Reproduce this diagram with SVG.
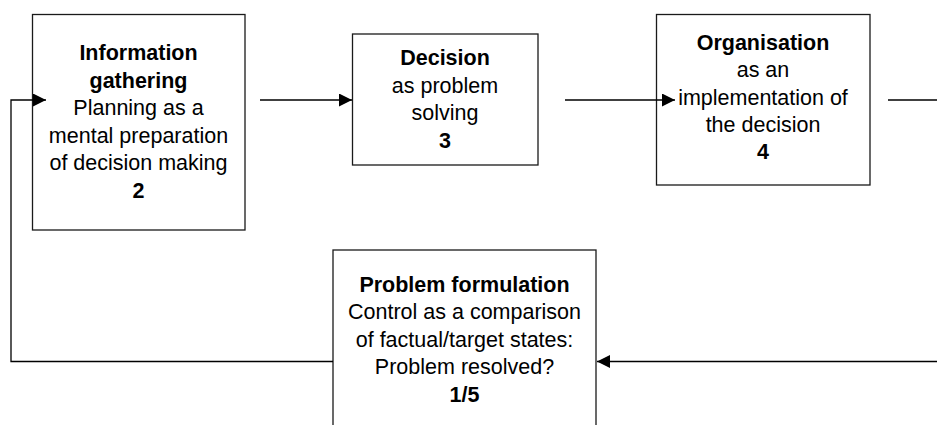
<svg xmlns="http://www.w3.org/2000/svg" width="937" height="425" viewBox="0 0 937 425">
<style>
.box{fill:#fff;stroke:#1a1a1a;stroke-width:1.3}
.t{font-family:"Liberation Sans",Arial,sans-serif;font-size:21.5px;fill:#000;text-anchor:middle}
.b{font-weight:bold}
.c{fill:none;stroke:#000;stroke-width:1.3}
</style>
<defs>
<marker id="arr" viewBox="0 0 13 13" refX="13" refY="6.5" markerWidth="13" markerHeight="13" markerUnits="userSpaceOnUse" orient="auto">
<path d="M0,0 L13,6.5 L0,13 z" fill="#000"/>
</marker>
</defs>
<g id="node-info">
<rect class="box" x="32.5" y="14.5" width="212.5" height="215.5"/>
<text class="t b" x="138.5" y="60">Information</text>
<text class="t b" x="138.5" y="87.5">gathering</text>
<text class="t" x="138.5" y="115">Planning as a</text>
<text class="t" x="138.5" y="142.5">mental preparation</text>
<text class="t" x="138.5" y="170">of decision making</text>
<text class="t b" x="138.5" y="197.5">2</text>
</g>
<g id="node-decision">
<rect class="box" x="352.5" y="34" width="185.5" height="131"/>
<text class="t b" x="445" y="65">Decision</text>
<text class="t" x="445" y="92.5">as problem</text>
<text class="t" x="445" y="120">solving</text>
<text class="t b" x="445" y="147.5">3</text>
</g>
<g id="node-organisation">
<rect class="box" x="656.5" y="14.5" width="213.5" height="170.5"/>
<text class="t b" x="763" y="50">Organisation</text>
<text class="t" x="763" y="77">as an</text>
<text class="t" x="763" y="104.5">implementation of</text>
<text class="t" x="763" y="131.5">the decision</text>
<text class="t b" x="763" y="158.5">4</text>
</g>
<g id="node-problem">
<rect class="box" x="333" y="250" width="263" height="200"/>
<text class="t b" x="464.5" y="291.5">Problem formulation</text>
<text class="t" x="464.5" y="319">Control as a comparison</text>
<text class="t" x="464.5" y="346.5">of factual/target states:</text>
<text class="t" x="464.5" y="374">Problem resolved?</text>
<text class="t b" x="464.5" y="401.5">1/5</text>
</g>
<g id="connectors">
<line class="c" x1="260" y1="100" x2="352" y2="100" marker-end="url(#arr)"/>
<line class="c" x1="565" y1="100" x2="675" y2="100" marker-end="url(#arr)"/>
<line class="c" x1="888" y1="100" x2="937" y2="100"/>
<line class="c" x1="937" y1="361.5" x2="597" y2="361.5" marker-end="url(#arr)"/>
<polyline class="c" points="333,361.5 11,361.5 11,100 46,100" marker-end="url(#arr)"/>
</g>
</svg>
